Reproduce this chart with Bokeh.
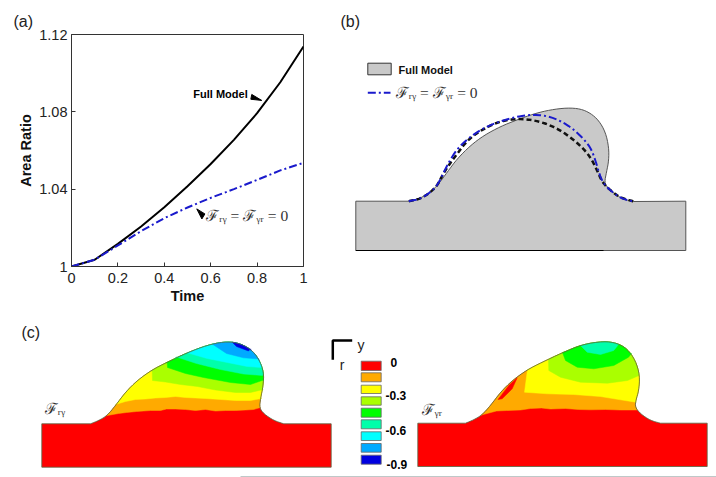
from bokeh.plotting import figure
from bokeh.layouts import column, row
from bokeh.models import Label, Range1d, FixedTicker
from bokeh.embed import file_html
from bokeh.resources import INLINE

# ---------- panel (a) data ----------
time = [0, 0.1, 0.2, 0.3, 0.4, 0.5, 0.6, 0.7, 0.8, 0.9, 1.0]
full_model = [1.0, 1.0035, 1.0117, 1.0207, 1.0307, 1.0415, 1.053, 1.0655, 1.0793, 1.0953, 1.1138]
reduced = [1.0, 1.0035, 1.0109, 1.0183, 1.0250, 1.0305, 1.0355, 1.040, 1.0448, 1.0497, 1.0536]
x_ticks = [0, 0.2, 0.4, 0.6, 0.8, 1]
y_ticks = [1, 1.04, 1.08, 1.12]
y_tick_labels = {1: "1", 1.04: "1.04", 1.08: "1.08", 1.12: "1.12"}
arrow_full_t = [0.82, 0.777, 0.773]
arrow_full_v = [1.0859, 1.0890, 1.0865]
arrow_red_t = [0.54, 0.575, 0.562]
arrow_red_v = [1.0298, 1.0272, 1.0246]

# ---------- panel (b) shapes ----------
b_outline = [(355.3,200.7),(408,200.7),(420,197.7),(430,191.7),(438.3,183.3),(446.7,171.7),(456.7,158.3),(470,145),(483.3,135),(500,126),(516.7,119.3),(533.3,113.3),(550,109.3),(566.7,107.3),(580,108.3),(590,112.7),(598.3,120),(605,131.7),(608.3,146.7),(608.3,160),(606,171.7),(604,181.7),(606.7,186.7),(615,194),(623.3,199),(633.3,201),(685.3,200.7),(685.3,250),(355.3,250)]
b_black = [(408.3,200.7),(420,198.3),(430,191.7),(436.7,185),(440,178.3),(446.7,166.7),(456.7,153.3),(466.7,140),(480,130),(496.7,121.7),(513.3,118.3),(530,119),(546.7,123.3),(563.3,131.7),(580,145),(590,156.7),(596.7,170),(601.7,181.7),(610,190),(620,197.3),(633.3,201)]
b_blue = [(408.3,200.7),(420,198.3),(430,191.7),(436.7,185),(441.7,175),(448.3,161.7),(456.7,148.3),(468.3,137.3),(483.3,127.3),(500,120.7),(516.7,116),(533.3,114),(550,116),(566.7,124),(580,135),(590,146.7),(595,160),(599.3,175),(603.3,183.3),(611.7,191.7),(621.7,198.3),(633.3,201)]

# ---------- panel (c) shapes ----------
c_colors = ["#ff0000", "#ffaa00", "#ffff00", "#aaff00", "#00ff00", "#00ffaa", "#00ffff", "#00aaff", "#0000e0"]
c_labels = ["0", "-0.3", "-0.6", "-0.9"]
left_outline = [(41.3,423.3),(90,423.3),(98.3,420),(106.7,415),(115,405),(125,391.7),(136.7,380),(151.7,369.3),(166.7,361.7),(186.7,352.3),(206.7,344.7),(223.3,341.3),(236.7,342),(250,348.3),(258.3,358.3),(263.3,371.7),(262.7,385),(260,398.3),(259,407.3),(263.3,413.3),(273.3,420),(283.3,423.3),(330.7,423.3),(330.7,466.7),(41.3,466.7)]
left_bands = [
    [(106.7,415),(118,413),(126,412),(136,411),(143,410.5),(150,410),(160,410),(166,408.5),(175,408.5),(185,409),(195,410),(205,409),(215,410.5),(225,410),(235,410),(245,409.5),(253,409),(259,407.3)],
    [(115,404),(125,401),(135,399),(145,398.5),(155,397.5),(165,397),(175,396),(185,397),(195,397.5),(205,398),(220,399),(235,400),(250,400),(261,398)],
    [(151.7,370),(152,380),(165,381.5),(180,384),(197,386),(215,389.5),(235,392),(250,392),(262.5,389)],
    [(166.7,361.7),(167,367),(185,373),(203,377),(230,382),(250,384),(263,379.5)],
    [(176,356.5),(196,363),(220,369),(243,373.5),(262,375)],
    [(186.7,352.3),(206.7,358),(226.7,362),(246.7,366),(261,367)],
    [(212,343.7),(226,353),(243,357.3),(258.5,358.5)],
    [(231.7,341.7),(236,346),(248,350.5),(250,348.3)],
]
right_outline = [(417.3,422.7),(465,422.7),(473.3,419.3),(481.7,414.3),(490,405),(500,391.7),(511.7,380),(526.7,369.3),(541.7,361.7),(561.7,352.3),(581.7,344),(603.3,340.7),(616.7,342.7),(626.7,348.3),(635,360),(639.3,375),(638.3,390),(635.3,400),(634.7,406.7),(640,413.3),(650,420),(660,422.7),(706.7,422.7),(706.7,466),(417.3,466)]
right_bands = [
    [(481.7,414.3),(496,410.5),(506,410),(520,409.5),(530,408),(541,407.5),(550,408.5),(565,408),(578,409),(590,409.3),(605,409),(620,409.5),(636,409.5)],
    [(527,369),(524,391.7),(547,393.3),(573,394),(600,396),(620,399.3),(635.3,401.7)],
    [(548,359),(548.3,370),(560,376.7),(580,381.7),(607,382.7),(627,380),(638.5,375)],
    [(562,352),(565,360),(576.7,366.7),(593.3,368.3),(613.3,365),(628,356.7),(631,353)],
    [(580,345),(586.7,351.7),(600,354),(613.3,350),(618,344)],
]
right_red_patch = [(497.5,399),(508.3,385),(516.7,377.3),(511.7,388.3),(501.7,398.3)]
legend_tops = [360.7, 372.3, 384.7, 396.3, 407.7, 419.3, 431.3, 443, 454.7]
legend_bottoms = [370, 381.3, 393, 404.7, 416.7, 428.3, 440, 451.7, 463.7]


def round_off(pts, n=2):
    """Corner rounding of a drawn profile (the end points stay)."""
    for _ in range(n):
        out = [pts[0]]
        for p, q in zip(pts[:-1], pts[1:]):
            out.append((0.75*p[0]+0.25*q[0], 0.75*p[1]+0.25*q[1]))
            out.append((0.25*p[0]+0.75*q[0], 0.25*p[1]+0.75*q[1]))
        out.append(pts[-1])
        pts = out
    return pts


def smooth_outline(o):
    return [o[0]] + round_off(o[1:-3]) + o[-3:]


def canvas(w, h, x0, x1, y0, y1):
    f = figure(width=w, height=h, x_range=Range1d(x0, x1), y_range=Range1d(y0, y1),
               output_backend="svg", toolbar_location=None, min_border=0)
    f.axis.visible = False
    f.grid.visible = False
    f.outline_line_color = None
    return f


def text(f, x, y, s, size=12, style="normal", font="Liberation Sans", color="#111111", align="left", baseline="middle"):
    f.add_layout(Label(x=x, y=y, text=s, text_font=font, text_font_size=f"{size}px", text_font_style=style,
                       text_color=color, text_align=align, text_baseline=baseline))


def panel_title(f, s, offset):
    f.title.text = s
    f.title.align = "left"
    f.title.offset = offset
    f.title.standoff = 10
    f.title.text_font = "Liberation Sans"
    f.title.text_font_size = "16px"
    f.title.text_font_style = "normal"
    f.title.text_color = "#222222"


MATH = "ℱᵣᵧ = ℱᵧᵣ = 0"
MATH_FONT = "Liberation Serif, DejaVu Serif"

# ---------- (a) ----------
a = figure(width=340, height=310, x_range=Range1d(0, 1), y_range=Range1d(1, 1.12),
           output_backend="svg", toolbar_location=None,
           min_border_left=71, min_border_right=37, min_border_top=34, min_border_bottom=44,
           x_axis_label="Time", y_axis_label="Area Ratio")
a.grid.visible = False
a.outline_line_color = "#333333"
for ax in (a.xaxis[0], a.yaxis[0]):
    ax.major_tick_in = 4
    ax.major_tick_out = 0
    ax.minor_tick_line_color = None
    ax.axis_line_color = "#333333"
    ax.major_tick_line_color = "#333333"
    ax.major_label_text_font = "Liberation Sans"
    ax.major_label_text_font_size = "14.5px"
    ax.major_label_text_color = "#222222"
    ax.axis_label_text_font = "Liberation Sans"
    ax.axis_label_text_font_style = "bold"
    ax.axis_label_text_font_size = "14.5px"
    ax.axis_label_text_color = "#111111"
a.xaxis[0].ticker = FixedTicker(ticks=x_ticks)
a.xaxis[0].major_label_overrides = {0: "0", 1: "1"}
a.yaxis[0].ticker = FixedTicker(ticks=y_ticks)
a.yaxis[0].major_label_overrides = y_tick_labels
a.yaxis[0].major_label_standoff = 4
a.xaxis[0].major_label_standoff = 6
a.xaxis[0].axis_label_standoff = 2
a.yaxis[0].axis_label_standoff = 2
a.line(time, full_model, line_color="black", line_width=2)
a.line(time, reduced, line_color="#1a1acc", line_width=2, line_dash="8 3 2 3")
a.patch(arrow_full_t, arrow_full_v, color="black")
a.patch(arrow_red_t, arrow_red_v, color="black")
text(a, 0.525, 1.0892, "Full Model", size=11, style="bold", color="black")
text(a, 0.58, 1.0265, MATH, size=15.5, font=MATH_FONT, color="#333333")
panel_title(a, "(a)", -58)

# ---------- (b) ----------
b = canvas(376, 310, 340, 716, 266, 34)
bo = smooth_outline(b_outline)
bx, by = zip(*bo)
b.patch(bx, by, fill_color="#c9c9c9", line_color="#555555", line_width=1)
b.line([355.3, 603], [250, 250], line_color="black", line_width=1)
x, y = zip(*round_off(b_black))
b.line(x, y, line_color="#111111", line_width=2.5, line_dash="5 3")
x, y = zip(*round_off(b_blue))
b.line(x, y, line_color="#1a1acc", line_width=2, line_dash="8 3 2 3")
b.quad(left=367.3, right=390.7, top=62.7, bottom=74.3, fill_color="#c9c9c9", line_color="#333333", line_width=1)
b.line([367.3, 390], [92.3, 92.3], line_color="#1a1acc", line_width=2, line_dash="8 3 2 3")
text(b, 398, 69, "Full Model", size=11, style="bold", color="#111111")
text(b, 395, 91.5, MATH, size=15.5, font=MATH_FONT, color="#333333")
panel_title(b, "(b)", 0)

# ---------- (c) ----------
c = canvas(716, 167, 0, 716, 477, 310)


def cap(outline, boundary):
    """Part of the profile above a contour boundary."""
    d = lambda p, q: (p[0]-q[0])**2 + (p[1]-q[1])**2
    i = min(range(len(outline)), key=lambda k: d(outline[k], boundary[0]))
    j = min(range(len(outline)), key=lambda k: d(outline[k], boundary[-1]))
    return outline[i:j+1] + boundary[::-1]


def contour(outline, bands, colors):
    outline = smooth_outline(outline)
    x, y = zip(*outline)
    c.patch(x, y, fill_color=colors[0], line_color=None)
    for band, col in zip(bands, colors[1:]):
        x, y = zip(*cap(outline, band))
        c.patch(x, y, fill_color=col, line_color=col, line_width=0.5)
    x, y = zip(*outline)
    c.patch(x, y, fill_color=None, line_color="#556644", line_width=0.8)


contour(left_outline, left_bands, c_colors)
contour(right_outline, right_bands, c_colors)
x, y = zip(*right_red_patch)
c.patch(x, y, fill_color="#ff0000", line_color="#ff0000", line_width=0.5)
c.quad(left=360.7, right=380.7, top=legend_tops, bottom=legend_bottoms, fill_color=c_colors,
       line_color="#666666", line_width=0.8)
c.line([351.7, 332.3, 332.3], [340, 340, 359.3], line_color="black", line_width=2.5)
text(c, 360.5, 344.5, "y", size=14, align="center", color="#222222")
text(c, 341.5, 364, "r", size=14, align="center", color="#222222")
for s, yy, xx in zip(c_labels, [361.5, 395, 430, 464], [390, 385, 385, 386]):
    text(c, xx, yy, s, size=12, style="bold", color="black")
text(c, 21, 332, "(c)", size=16, color="#222222")
text(c, 44, 408, "ℱᵣᵧ", size=15.5, font=MATH_FONT, color="#333333")
text(c, 421, 409, "ℱᵧᵣ", size=15.5, font=MATH_FONT, color="#333333")
c.line([240, 716], [476, 476], line_color="#bfc8c8", line_width=1)

page = column(row(a, b, spacing=0), c, spacing=0)
open("out.html", "w").write(file_html(page, INLINE))
